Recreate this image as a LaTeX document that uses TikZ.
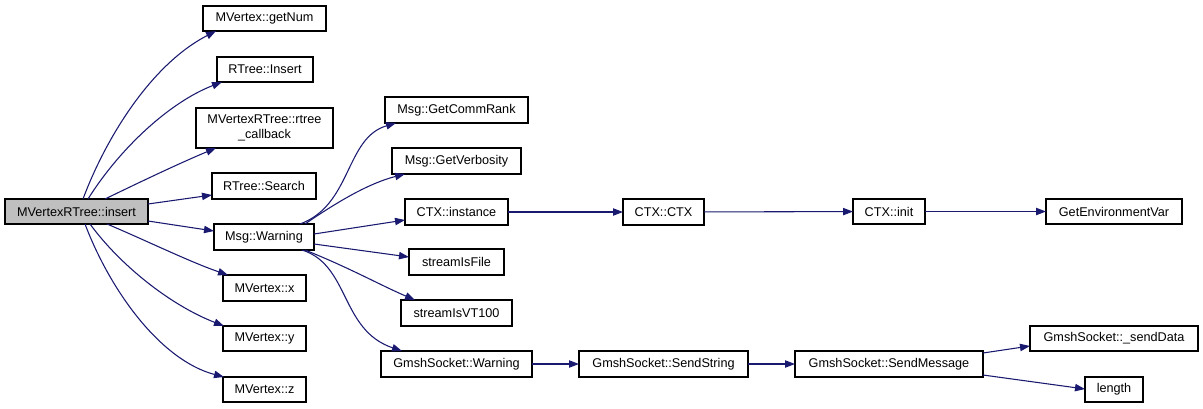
\documentclass[tikz,border=0pt]{standalone}
\usepackage{fontspec}
\setmainfont{Liberation Sans}
\usetikzlibrary{arrows.meta}
\definecolor{edge}{HTML}{191970}
\definecolor{rootfill}{HTML}{BFBFBF}
\tikzset{
  box/.style={draw=black, line width=0.9pt, fill=white, rectangle, inner sep=0pt, outer sep=0pt, align=center, font=\fontsize{9.5}{11}\selectfont},
  call/.style={draw=edge, line width=0.8pt, -{Triangle[length=7.5pt,width=5.5pt]}, color=edge},
}
\newcommand\bx[7][]{\node[box,#1, minimum width={(#4-#2)*0.75pt}, minimum height={(#5-#3)*0.75pt}] (#6) at ({(#2+#4)/2},{(#3+#5)/2}) {#7};}
\begin{document}
\begin{tikzpicture}[x=0.75pt,y=-0.75pt]
\useasboundingbox (0,0) rectangle (1203,408);
\bx[fill=rootfill]{5}{199}{148}{224}{ins}{MVertexRTree::insert}
\bx{203}{6}{326}{31}{getnum}{MVertex::getNum}
\bx{217}{57}{313}{82}{rins}{RTree::Insert}
\bx{196}{108}{333}{148}{cb}{MVertexRTree::rtree\\\_callback}
\bx{212}{173}{316}{199}{rsearch}{RTree::Search}
\bx{214}{224}{314}{250}{warn}{Msg::Warning}
\bx{223}{275}{306}{301}{vx}{MVertex::x}
\bx{223}{326}{306}{351}{vy}{MVertex::y}
\bx{223}{377}{306}{402}{vz}{MVertex::z}
\bx{385}{97}{528}{123}{rank}{Msg::GetCommRank}
\bx{392}{148}{521}{174}{verb}{Msg::GetVerbosity}
\bx{405}{199}{508}{225}{inst}{CTX::instance}
\bx{623}{199}{704}{225}{ctx}{CTX::CTX}
\bx{853}{199}{925}{224}{init}{CTX::init}
\bx{1046}{199}{1182}{224}{env}{GetEnvironmentVar}
\bx{409}{249}{504}{275}{sfile}{streamIsFile}
\bx{401}{300}{512}{326}{svt}{streamIsVT100}
\bx{381}{351}{532}{377}{gwarn}{GmshSocket::Warning}
\bx{579}{351}{748}{377}{sstr}{GmshSocket::SendString}
\bx{795}{351}{983}{377}{smsg}{GmshSocket::SendMessage}
\bx{1030}{326}{1198}{351}{sdata}{GmshSocket::\_sendData}
\bx{1085}{377}{1143}{402}{len}{length}
% edges from insert
\draw[call] (ins.north -| 83,0) .. controls (105,140) and (150,65) .. (getnum.south -| 216,0);
\draw[call] (ins.north -| 88,0) .. controls (120,148) and (170,102) .. (rins.south -| 222,0);
\draw[call] (ins.north -| 105,0) .. controls (140,182) and (180,163) .. (cb.south -| 216,0);
\draw[call] (ins.east |- 0,204) -- (rsearch.west |- 0,195);
\draw[call] (ins.east |- 0,221) -- (warn.west |- 0,231);
\draw[call] (ins.south -| 107,0) .. controls (145,240) and (190,262) .. (vx.north -| 228,0);
\draw[call] (ins.south -| 90,0) .. controls (120,265) and (170,305) .. (vy.north -| 224,0);
\draw[call] (ins.south -| 85,0) .. controls (110,290) and (160,360) .. (vz.north -| 224,0);
% edges from Msg::Warning
\draw[call] (warn.north -| 300,0) .. controls (352,205) and (345,138) .. (rank.south -| 396,0);
\draw[call] (warn.north -| 305,0) .. controls (340,200) and (370,183) .. (verb.south -| 405,0);
\draw[call] (warn.east |- 0,234) -- (inst.west |- 0,220);
\draw[call] (warn.east |- 0,244) -- (sfile.west |- 0,257);
\draw[call] (warn.south -| 305,0) .. controls (350,268) and (380,285) .. (svt.north -| 415,0);
\draw[call] (warn.south -| 302,0) .. controls (350,265) and (340,330) .. (gwarn.north -| 402,0);
% chains
\draw[call] (inst) -- (ctx);
\draw[call] (ctx) -- (init);
\draw[call] (init) -- (env);
\draw[call] (gwarn) -- (sstr);
\draw[call] (sstr) -- (smsg);
\draw[call] (smsg.east |- 0,353) -- (sdata.west |- 0,346);
\draw[call] (smsg.east |- 0,375) -- (len.west |- 0,389);
\end{tikzpicture}
\end{document}
